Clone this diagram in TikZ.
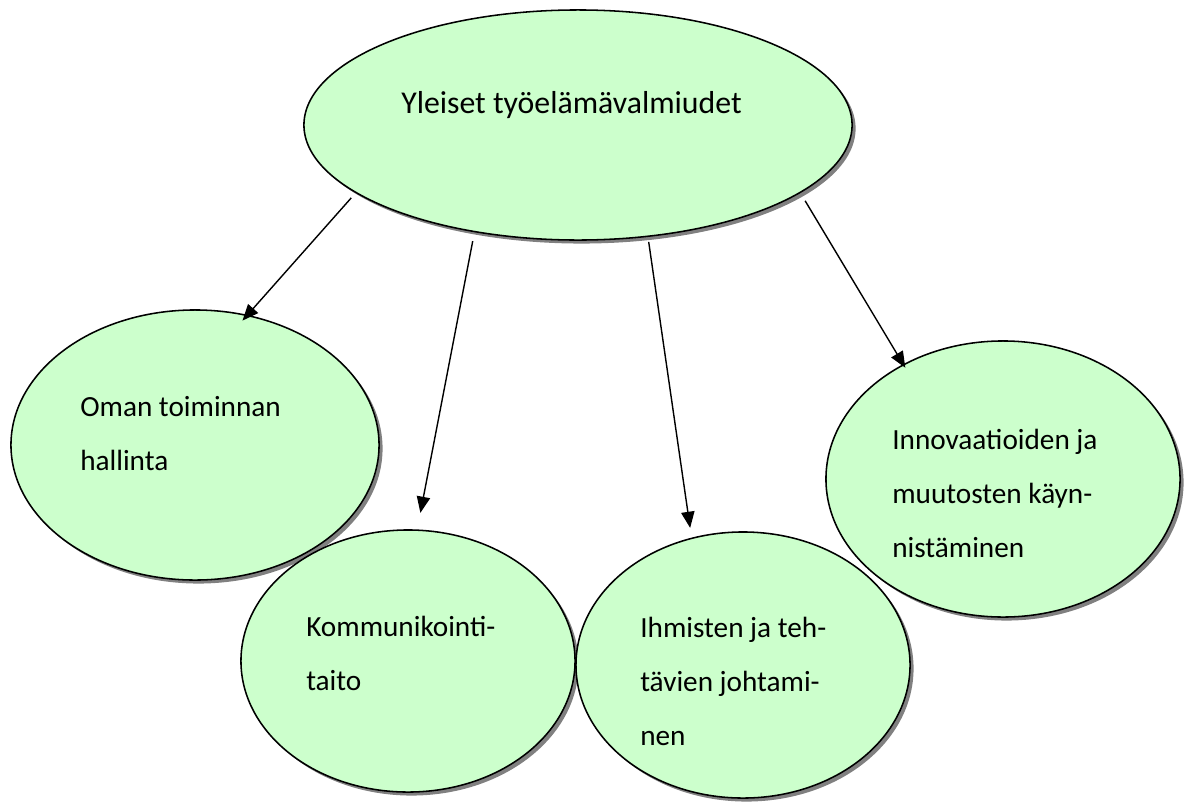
\documentclass[tikz,border=0pt]{standalone}
\usepackage{fontspec}
\setmainfont{Carlito}
\usetikzlibrary{shapes.geometric,shadows,arrows.meta}
\definecolor{bubblefill}{RGB}{204,255,204}
\definecolor{bubbleshadow}{RGB}{128,128,128}

\begin{document}
\begin{tikzpicture}[x=0.025cm, y=-0.025cm]
    \tikzstyle{bubble} = [ellipse, draw, line width=1.1pt, fill=bubblefill, inner sep=0pt,
        drop shadow={shadow xshift=2.5pt, shadow yshift=-2.5pt, fill=bubbleshadow, opacity=1}]
    \tikzstyle{bubbletext} = [anchor=base west, align=left, inner sep=0pt,
        font=\fontsize{20.8}{38.4}\selectfont]
    \tikzstyle{link} = [-{Triangle[length=11.5pt, width=9.5pt]}, line width=1pt]
    \useasboundingbox (0,0) rectangle (1187,803);

    \node[bubble, minimum width=13.7cm, minimum height=5.75cm] (general) at (578,125) {};
    \node[bubble, minimum width=9.2cm, minimum height=6.75cm] (selfmgmt) at (195,445) {};
    \node[bubble, minimum width=8.35cm, minimum height=6.55cm] (communication) at (408,661) {};
    \node[bubble, minimum width=8.35cm, minimum height=6.65cm] (leadership) at (743,665) {};
    \node[bubble, minimum width=8.85cm, minimum height=6.9cm] (innovation) at (1003,479) {};

    \node[bubbletext, font=\fontsize{22.6}{26}\selectfont] (generalText) at (401,113)
        {Yleiset työelämävalmiudet};
    \node[bubbletext] (selfmgmtText) at (80,470) {Oman toiminnan\\hallinta};
    \node[bubbletext] (communicationText) at (306,690) {Kommunikointi-\\taito};
    \node[bubbletext] (leadershipText) at (640,745) {Ihmisten ja teh-\\tävien johtami-\\nen};
    \node[bubbletext] (innovationText) at (892,557) {Innovaatioiden ja\\muutosten käyn-\\nistäminen};

    \draw[link, shorten <=4.6pt, shorten >=-5.5pt] (general.197) -- (selfmgmt.68);
    \draw[link, shorten <=6.4pt, shorten >=12pt] (general.226.8) -- (communication.86);
    \draw[link, shorten <=3.5pt, shorten >=7pt] (general.302) -- (leadership.112);
    \draw[link, shorten <=6.5pt, shorten >=-3pt] (general.343.5) -- (innovation.131);
\end{tikzpicture}
\end{document}
